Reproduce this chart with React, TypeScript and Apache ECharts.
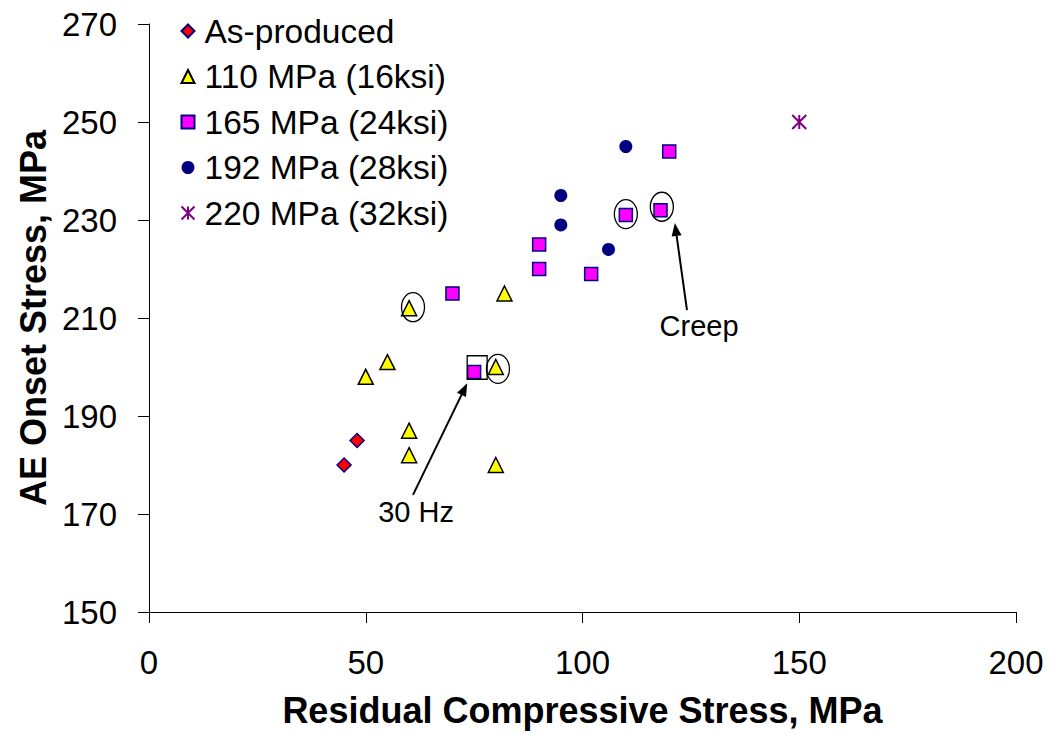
import React, { useEffect, useRef } from "react";
import * as echarts from "echarts";

const FONT = "'Liberation Sans', Arial, sans-serif";

const seriesNames = [
  "As-produced",
  "110 MPa (16ksi)",
  "165 MPa (24ksi)",
  "192 MPa (28ksi)",
  "220 MPa (32ksi)",
];

const asProduced: number[][] = [[45, 180], [48, 185]];
const mpa110: number[][] = [
  [60, 212], [50, 198], [55, 201], [60, 187], [60, 182], [80, 180], [80, 200], [82, 215],
];
const mpa165: number[][] = [
  [70, 215], [90, 225], [90, 220], [102, 219], [75, 199], [110, 231], [118, 232], [120, 244],
];
const mpa192: number[][] = [[110, 245], [95, 235], [95, 229], [106, 224]];
const mpa220: number[][] = [[150, 250]];

const xTicks = { min: 0, max: 200, interval: 50 };
const yTicks = { min: 150, max: 270, interval: 20 };

// annotation anchors in data coordinates
const ellipseCenters: number[][] = [[60.9, 212.2], [80.5, 199.6], [110, 231.2], [118.3, 232.7]];
const boxCorners: number[][] = [[73.4, 202.3], [78.0, 197.5]];
const arrows: number[][][] = [
  [[60.9, 173.9], [73.4, 196.7]],
  [[124.1, 211.6], [121.3, 229.4]],
];
const labels: { text: string; at: number[] }[] = [
  { text: "30 Hz", at: [61.6, 170.4] },
  { text: "Creep", at: [126.9, 208.4] },
];

const asteriskPath = "path://M0,0L10,10M10,0L0,10M5,0L5,10";

export default function App() {
  const ref = useRef<HTMLDivElement>(null);
  useEffect(() => {
    if (!ref.current) return;
    const chart = echarts.init(ref.current, undefined, { renderer: "svg" });
    const base = {
      type: "scatter" as const,
      animation: false,
    };
    chart.setOption({
      animation: false,
      backgroundColor: "#ffffff",
      textStyle: { fontFamily: FONT },
      grid: { left: 149, right: 37, top: 24, bottom: 122 },
      legend: {
        orient: "vertical",
        left: 174,
        top: 9,
        itemWidth: 13,
        itemHeight: 13,
        itemGap: 11.5,
        textStyle: { fontSize: 33.5, fontFamily: FONT, color: "#000", padding: [0, 0, 0, 5] },
        data: seriesNames,
      },
      xAxis: {
        type: "value",
        ...xTicks,
        name: "Residual Compressive Stress, MPa",
        nameLocation: "middle",
        nameGap: 80,
        nameTextStyle: { fontSize: 36, fontWeight: "bold", fontFamily: FONT, color: "#000" },
        splitLine: { show: false },
        axisLine: { lineStyle: { color: "#000", width: 1 } },
        axisTick: { inside: false, length: 11, lineStyle: { color: "#000" } },
        axisLabel: { fontSize: 33, fontFamily: FONT, color: "#000", margin: 34 },
      },
      yAxis: {
        type: "value",
        ...yTicks,
        name: "AE Onset Stress, MPa",
        nameLocation: "middle",
        nameGap: 95,
        nameTextStyle: { fontSize: 36, fontWeight: "bold", fontFamily: FONT, color: "#000" },
        splitLine: { show: false },
        axisLine: { show: true, lineStyle: { color: "#000", width: 1 } },
        axisTick: { show: true, inside: false, length: 11, lineStyle: { color: "#000" } },
        axisLabel: { fontSize: 33, fontFamily: FONT, color: "#000", margin: 32 },
      },
      series: [
        {
          ...base,
          name: seriesNames[0],
          data: asProduced,
          symbol: "diamond",
          symbolSize: 14,
          itemStyle: { color: "#ff0000", borderColor: "#000080", borderWidth: 1.5, opacity: 1 },
        },
        {
          ...base,
          name: seriesNames[1],
          data: mpa110,
          symbol: "triangle",
          symbolSize: 15,
          itemStyle: { color: "#ffff00", borderColor: "#000000", borderWidth: 1.5, opacity: 1 },
        },
        {
          ...base,
          name: seriesNames[2],
          data: mpa165,
          symbol: "rect",
          symbolSize: 13,
          itemStyle: { color: "#ff00ff", borderColor: "#000080", borderWidth: 1.5, opacity: 1 },
        },
        {
          ...base,
          name: seriesNames[3],
          data: mpa192,
          symbol: "circle",
          symbolSize: 13,
          itemStyle: { color: "#000080", borderColor: "#000080", borderWidth: 0, opacity: 1 },
        },
        {
          ...base,
          name: seriesNames[4],
          data: mpa220,
          symbol: asteriskPath,
          symbolSize: 14,
          itemStyle: { color: "none", borderColor: "#800080", borderWidth: 2, opacity: 1 },
        },
      ],
    });

    const px = (p: number[]) => chart.convertToPixel({ gridIndex: 0 }, p) as number[];
    const graphics: any[] = [];
    ellipseCenters.forEach((c) => {
      const [cx, cy] = px(c);
      graphics.push({
        type: "ellipse",
        shape: { cx, cy, rx: 11.5, ry: 14.5 },
        style: { fill: "none", stroke: "#000", lineWidth: 1.3 },
        z: 10,
      });
    });
    {
      const [x1, y1] = px(boxCorners[0]);
      const [x2, y2] = px(boxCorners[1]);
      graphics.push({
        type: "rect",
        shape: { x: Math.min(x1, x2), y: Math.min(y1, y2), width: Math.abs(x2 - x1), height: Math.abs(y2 - y1) },
        style: { fill: "none", stroke: "#000", lineWidth: 1.3 },
        z: 10,
      });
    }
    arrows.forEach(([t, h]) => {
      const [tx, ty] = px(t);
      const [hx, hy] = px(h);
      const dx = hx - tx;
      const dy = hy - ty;
      const len = Math.sqrt(dx * dx + dy * dy);
      const ux = dx / len;
      const uy = dy / len;
      const headLen = 13;
      const headW = 5;
      const bx = hx - ux * headLen;
      const by = hy - uy * headLen;
      graphics.push({
        type: "line",
        shape: { x1: tx, y1: ty, x2: bx, y2: by },
        style: { stroke: "#000", lineWidth: 2 },
        z: 10,
      });
      graphics.push({
        type: "polygon",
        shape: {
          points: [
            [hx, hy],
            [bx - uy * headW, by + ux * headW],
            [bx + uy * headW, by - ux * headW],
          ],
        },
        style: { fill: "#000" },
        z: 10,
      });
    });
    labels.forEach((l) => {
      const [x, y] = px(l.at);
      graphics.push({
        type: "text",
        x,
        y,
        style: {
          text: l.text,
          font: `29px ${FONT}`,
          fill: "#000",
          align: "center",
          verticalAlign: "middle",
          textAlign: "center",
          textVerticalAlign: "middle",
        },
        z: 10,
      });
    });
    chart.setOption({ graphic: graphics });

    return () => chart.dispose();
  }, []);
  return (
    <div
      ref={ref}
      style={{ position: "fixed", left: 0, top: 0, width: 1053, height: 734 }}
    />
  );
}
